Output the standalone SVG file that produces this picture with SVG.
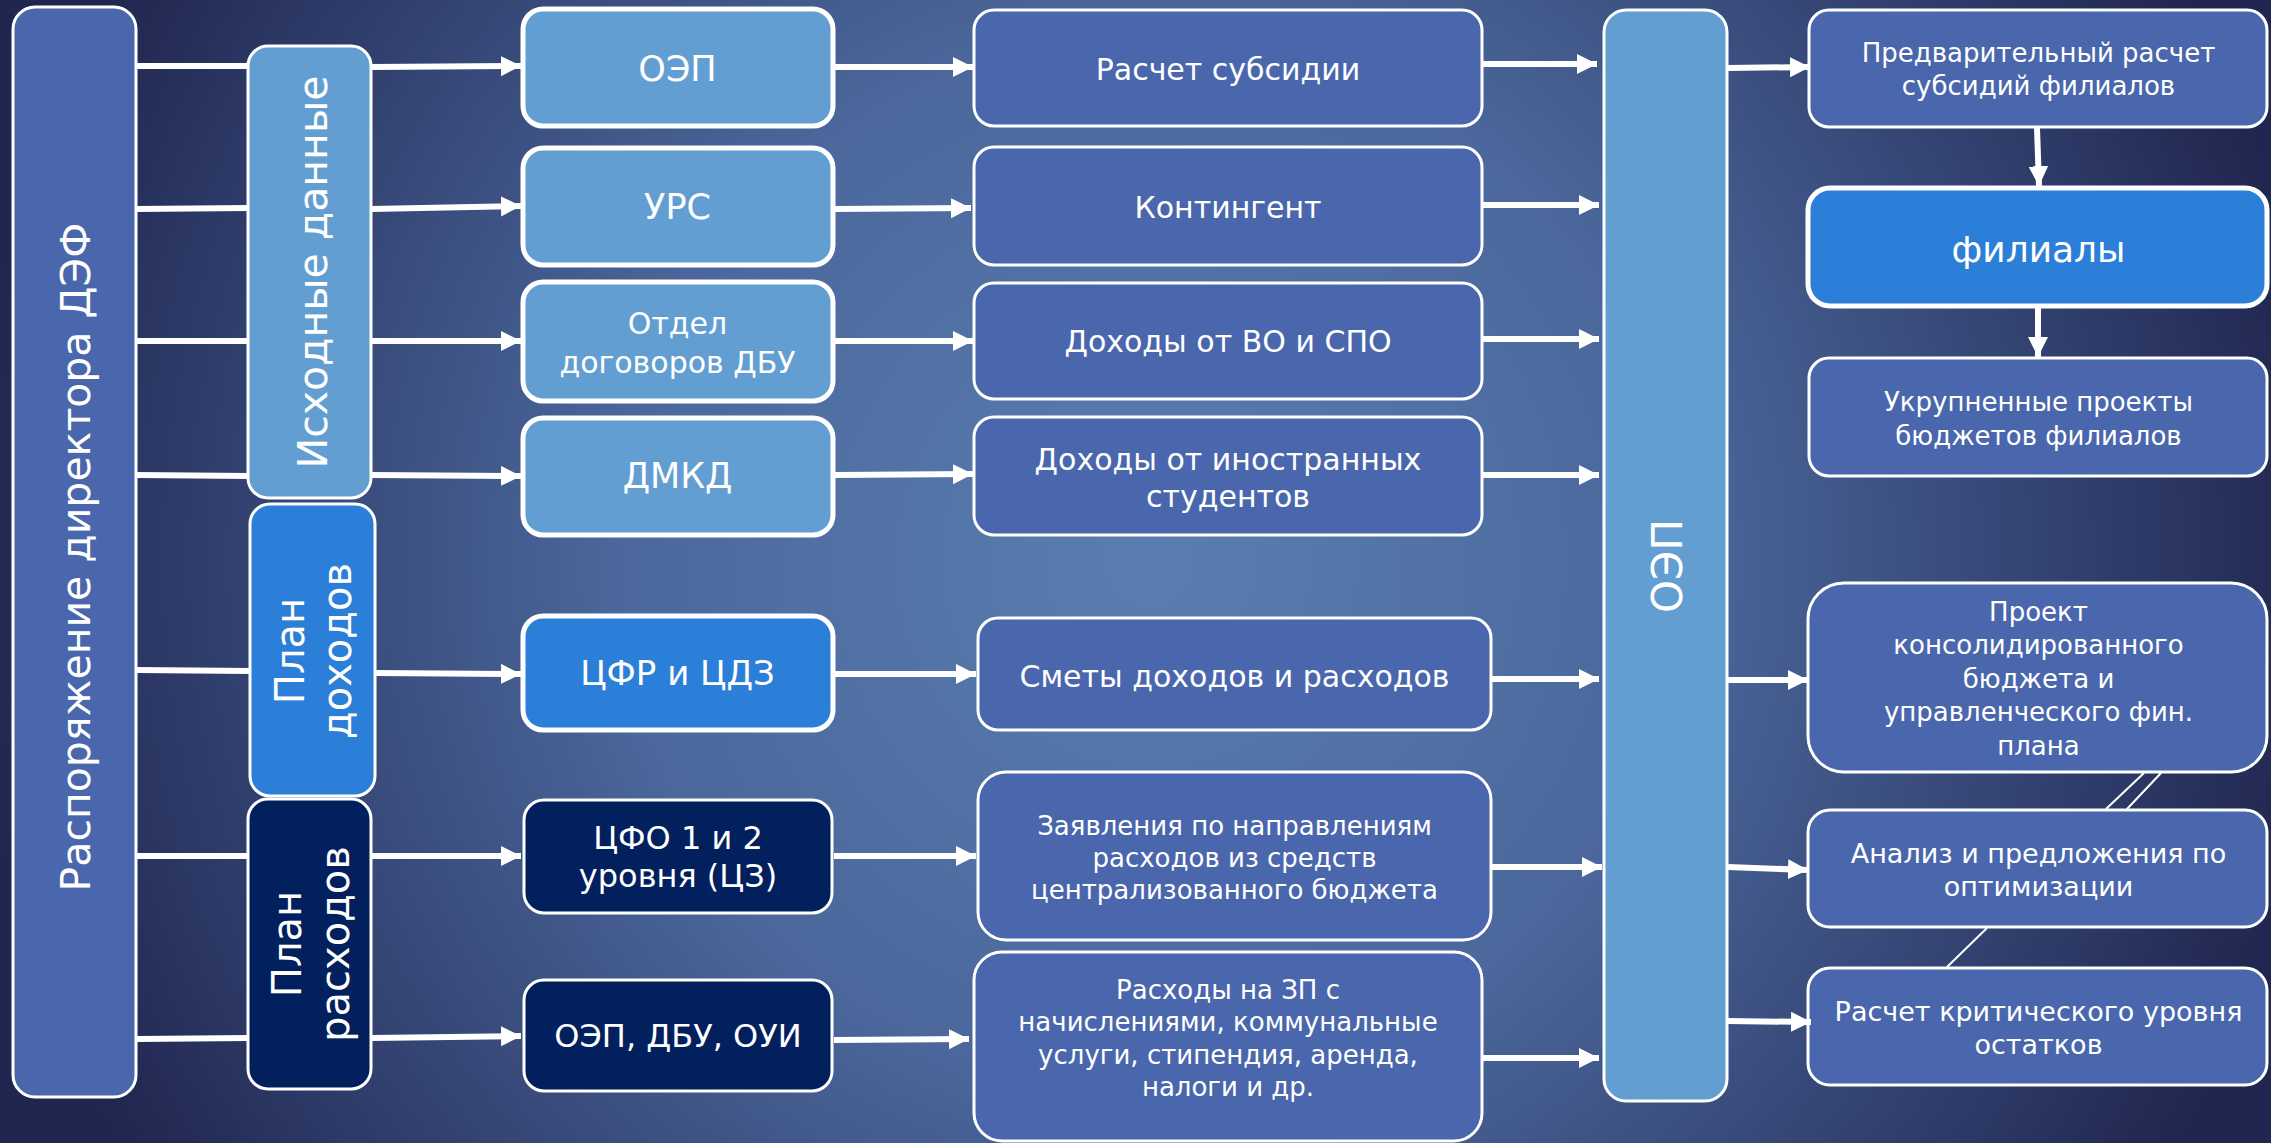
<svg xmlns="http://www.w3.org/2000/svg" width="2271" height="1143" viewBox="0 0 2271 1143">
  <defs>
    <radialGradient id="bg" cx="1150" cy="560" r="1180" gradientUnits="userSpaceOnUse">
      <stop offset="0" stop-color="#5a7eb1"/>
      <stop offset="0.45" stop-color="#4b679b"/>
      <stop offset="0.85" stop-color="#2c3865"/>
      <stop offset="1" stop-color="#20264f"/>
    </radialGradient>
    <marker id="ah" markerUnits="userSpaceOnUse" markerWidth="22" markerHeight="22" refX="20" refY="10" orient="auto">
      <path d="M0,0 L20,10 L0,20 z" fill="#ffffff"/>
    </marker>
    <style>
      .box { stroke: #ffffff; stroke-width: 3; }
      .thick { stroke-width: 5; }
      .mid { fill: #4a67ad; }
      .light { fill: #629ed2; }
      .bright { fill: #2b7fd8; }
      .dark { fill: #03205e; }
      text { font-family: "DejaVu Sans", "Liberation Sans", sans-serif; fill: #ffffff; text-anchor: middle; }
      .conn line { stroke: #ffffff; stroke-width: 6; }
      .conn .arrow { marker-end: url(#ah); }
      .conn .thin { stroke-width: 2; }
    </style>
  </defs>

  <rect x="0" y="0" width="2271" height="1143" fill="url(#bg)"/>

  <!-- Column 1 -->
  <g id="n-rasporyazhenie">
    <rect class="box mid" x="13" y="7" width="123" height="1090" rx="22"/>
    <text transform="translate(74.5,557) rotate(-90)" x="0" y="15" font-size="41">Распоряжение директора ДЭФ</text>
  </g>

  <!-- Column 2 -->
  <g id="n-ishodnye">
    <rect class="box light" x="248" y="46" width="123" height="452" rx="20"/>
    <text transform="translate(311.5,272) rotate(-90)" x="0" y="15" font-size="41">Исходные данные</text>
  </g>
  <g id="n-plan-dohodov">
    <rect class="box bright" x="250" y="504" width="125" height="292" rx="20"/>
    <text transform="translate(312,651) rotate(-90)" font-size="40"><tspan x="0" y="-8">План</tspan><tspan x="0" y="39">доходов</tspan></text>
  </g>
  <g id="n-plan-rashodov">
    <rect class="box dark" x="248" y="799" width="123" height="290" rx="20"/>
    <text transform="translate(309.5,944) rotate(-90)" font-size="40"><tspan x="0" y="-9">План</tspan><tspan x="0" y="39">расходов</tspan></text>
  </g>

  <!-- Column 3 -->
  <g id="n-oep">
    <rect class="box thick light" x="523" y="9" width="310" height="117" rx="20"/>
    <text x="677.5" y="81" font-size="35">ОЭП</text>
  </g>
  <g id="n-urs">
    <rect class="box thick light" x="523" y="148" width="310" height="117" rx="20"/>
    <text x="677.5" y="219" font-size="35">УРС</text>
  </g>
  <g id="n-otdel">
    <rect class="box thick light" x="523" y="282" width="310" height="119" rx="20"/>
    <text x="677.5" y="334" font-size="30">Отдел</text>
    <text x="677.5" y="373" font-size="30">договоров ДБУ</text>
  </g>
  <g id="n-dmkd">
    <rect class="box thick light" x="523" y="418" width="310" height="117" rx="20"/>
    <text x="677.5" y="488" font-size="35">ДМКД</text>
  </g>
  <g id="n-cfr">
    <rect class="box thick bright" x="523" y="616" width="310" height="114" rx="20"/>
    <text x="677.5" y="685" font-size="34">ЦФР и ЦДЗ</text>
  </g>
  <g id="n-cfo">
    <rect class="box dark" x="524" y="800" width="308" height="113" rx="20"/>
    <text x="678" y="849" font-size="32">ЦФО 1 и 2</text>
    <text x="678" y="887" font-size="32">уровня (ЦЗ)</text>
  </g>
  <g id="n-oep-dbu-oui">
    <rect class="box dark" x="524" y="980" width="308" height="111" rx="20"/>
    <text x="678" y="1047" font-size="32">ОЭП, ДБУ, ОУИ</text>
  </g>

  <!-- Column 4 -->
  <g id="n-raschet-subsidii">
    <rect class="box mid" x="974" y="10" width="508" height="116" rx="20"/>
    <text x="1228" y="80" font-size="30">Расчет субсидии</text>
  </g>
  <g id="n-kontingent">
    <rect class="box mid" x="974" y="147" width="508" height="118" rx="20"/>
    <text x="1228" y="218" font-size="30">Контингент</text>
  </g>
  <g id="n-dohody-vo">
    <rect class="box mid" x="974" y="283" width="508" height="116" rx="20"/>
    <text x="1228" y="352" font-size="30">Доходы от ВО и СПО</text>
  </g>
  <g id="n-dohody-inostr">
    <rect class="box mid" x="974" y="417" width="508" height="118" rx="20"/>
    <text x="1228" y="470" font-size="30">Доходы от иностранных</text>
    <text x="1228" y="507" font-size="30">студентов</text>
  </g>
  <g id="n-smety">
    <rect class="box mid" x="978" y="618" width="513" height="112" rx="20"/>
    <text x="1234.5" y="687" font-size="30">Сметы доходов и расходов</text>
  </g>
  <g id="n-zayavleniya">
    <rect class="box mid" x="978" y="772" width="513" height="168" rx="28"/>
    <text x="1234.5" y="835" font-size="26">Заявления по направлениям</text>
    <text x="1234.5" y="867" font-size="26">расходов из средств</text>
    <text x="1234.5" y="899" font-size="26">централизованного бюджета</text>
  </g>
  <g id="n-rashody-zp">
    <rect class="box mid" x="974" y="952" width="508" height="189" rx="28"/>
    <text x="1228" y="999" font-size="26">Расходы на ЗП с</text>
    <text x="1228" y="1031" font-size="26">начислениями, коммунальные</text>
    <text x="1228" y="1064" font-size="26">услуги, стипендия, аренда,</text>
    <text x="1228" y="1096" font-size="26">налоги и др.</text>
  </g>

  <!-- Column 5 -->
  <g id="n-oep-vertical">
    <rect class="box light" x="1604" y="10" width="123" height="1091" rx="22"/>
    <text transform="translate(1667,566) rotate(-90)" x="0" y="15" font-size="42">ОЭП</text>
  </g>

  <!-- Column 6 -->
  <g id="n-predvaritelny">
    <rect class="box mid" x="1809" y="10" width="458" height="117" rx="20"/>
    <text x="2038.5" y="62" font-size="26">Предварительный расчет</text>
    <text x="2038.5" y="95" font-size="26">субсидий филиалов</text>
  </g>
  <g id="n-filialy">
    <rect class="box thick bright" x="1808" y="188" width="459" height="118" rx="22"/>
    <text x="2038.5" y="262" font-size="36">филиалы</text>
  </g>
  <g id="n-ukrupnennye">
    <rect class="box mid" x="1809" y="358" width="458" height="118" rx="20"/>
    <text x="2038.5" y="411" font-size="26">Укрупненные проекты</text>
    <text x="2038.5" y="445" font-size="26">бюджетов филиалов</text>
  </g>
  <g id="n-proekt">
    <rect class="box mid" x="1808" y="583" width="459" height="189" rx="36"/>
    <text x="2038.5" y="621" font-size="26">Проект</text>
    <text x="2038.5" y="654" font-size="26">консолидированного</text>
    <text x="2038.5" y="688" font-size="26">бюджета и</text>
    <text x="2038.5" y="721" font-size="26">управленческого фин.</text>
    <text x="2038.5" y="755" font-size="26">плана</text>
  </g>
  <g id="n-analiz">
    <rect class="box mid" x="1808" y="810" width="459" height="117" rx="22"/>
    <text x="2038.5" y="863" font-size="27">Анализ и предложения по</text>
    <text x="2038.5" y="896" font-size="27">оптимизации</text>
  </g>
  <g id="n-kritichesky">
    <rect class="box mid" x="1808" y="968" width="459" height="117" rx="22"/>
    <text x="2038.5" y="1021" font-size="27">Расчет критического уровня</text>
    <text x="2038.5" y="1054" font-size="27">остатков</text>
  </g>

  <!-- Connectors -->
  <g id="connectors" class="conn">
    <line x1="136" y1="66" x2="249" y2="66"/>
    <line x1="136" y1="209" x2="249" y2="208"/>
    <line x1="136" y1="341" x2="249" y2="341"/>
    <line x1="136" y1="475" x2="249" y2="476"/>
    <line x1="136" y1="670" x2="251" y2="671"/>
    <line x1="136" y1="856" x2="249" y2="856"/>
    <line x1="136" y1="1039" x2="249" y2="1038"/>

    <line class="arrow" x1="371" y1="67" x2="521" y2="66"/>
    <line class="arrow" x1="371" y1="209" x2="521" y2="206"/>
    <line class="arrow" x1="371" y1="341" x2="521" y2="341"/>
    <line class="arrow" x1="371" y1="475" x2="521" y2="476"/>
    <line class="arrow" x1="375" y1="673" x2="521" y2="674"/>
    <line class="arrow" x1="371" y1="856" x2="521" y2="856"/>
    <line class="arrow" x1="371" y1="1038" x2="521" y2="1036"/>

    <line class="arrow" x1="835" y1="67" x2="973" y2="67"/>
    <line class="arrow" x1="835" y1="209" x2="971" y2="208"/>
    <line class="arrow" x1="835" y1="341" x2="973" y2="341"/>
    <line class="arrow" x1="835" y1="475" x2="973" y2="474"/>
    <line class="arrow" x1="835" y1="674" x2="976" y2="674"/>
    <line class="arrow" x1="834" y1="856" x2="976" y2="856"/>
    <line class="arrow" x1="834" y1="1040" x2="969" y2="1039"/>

    <line class="arrow" x1="1483" y1="64" x2="1597" y2="64"/>
    <line class="arrow" x1="1483" y1="205" x2="1599" y2="205"/>
    <line class="arrow" x1="1483" y1="339" x2="1599" y2="339"/>
    <line class="arrow" x1="1483" y1="475" x2="1599" y2="475"/>
    <line class="arrow" x1="1492" y1="679" x2="1599" y2="679"/>
    <line class="arrow" x1="1492" y1="867" x2="1602" y2="867"/>
    <line class="arrow" x1="1483" y1="1058" x2="1599" y2="1058"/>

    <line class="arrow" x1="1728" y1="68" x2="1810" y2="67"/>
    <line class="arrow" x1="1728" y1="680" x2="1808" y2="680"/>
    <line class="arrow" x1="1728" y1="867" x2="1808" y2="870"/>
    <line class="arrow" x1="1728" y1="1021" x2="1811" y2="1022"/>

    <line class="arrow" x1="2037" y1="128" x2="2039" y2="186"/>
    <line class="arrow" x1="2038" y1="308" x2="2038" y2="357"/>

    <line class="thin" x1="2144" y1="773" x2="2106" y2="809"/>
    <line class="thin" x1="2161" y1="773" x2="2127" y2="809"/>
    <line class="thin" x1="1987" y1="928" x2="1947" y2="967"/>
  </g>
</svg>
